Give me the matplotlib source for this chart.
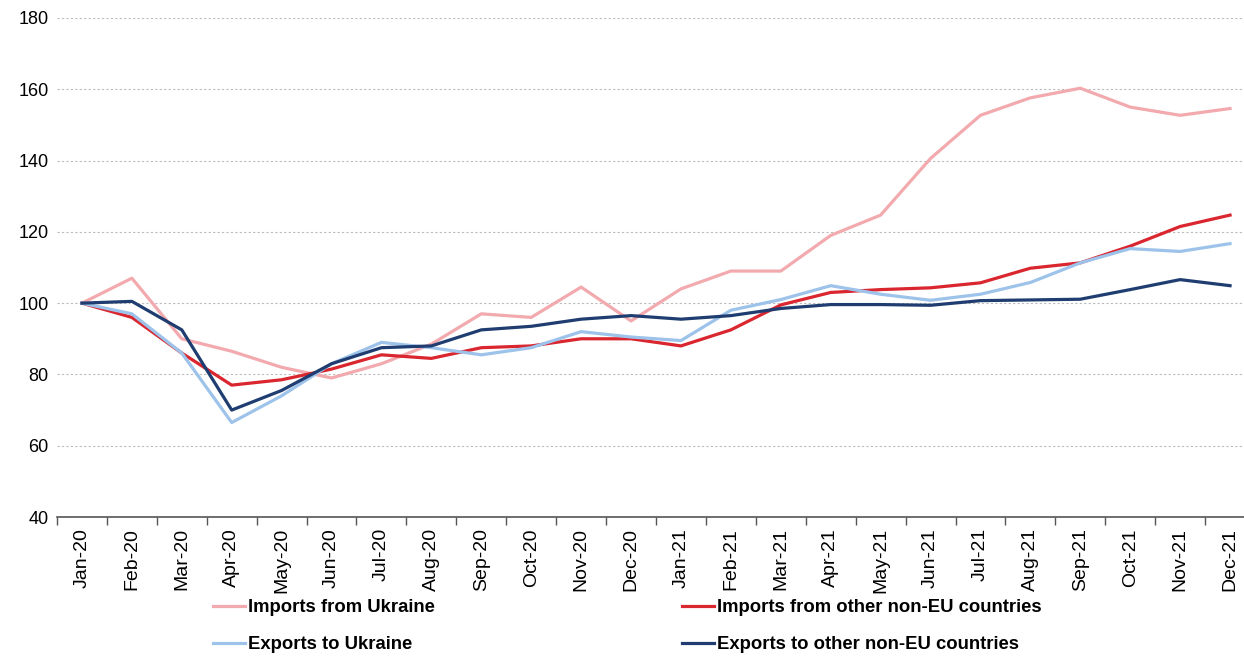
import numpy as np
import matplotlib.pyplot as plt
from matplotlib.ticker import MultipleLocator, FixedLocator

# ------------------------------------------------------------------ data
months = ['Jan-20', 'Feb-20', 'Mar-20', 'Apr-20', 'May-20', 'Jun-20',
          'Jul-20', 'Aug-20', 'Sep-20', 'Oct-20', 'Nov-20', 'Dec-20',
          'Jan-21', 'Feb-21', 'Mar-21', 'Apr-21', 'May-21', 'Jun-21',
          'Jul-21', 'Aug-21', 'Sep-21', 'Oct-21', 'Nov-21', 'Dec-21']

imports_ukraine = [100, 107, 90, 86.5, 82, 79, 83, 88.5, 97, 96, 104.5, 95,
                   104, 109, 109, 119, 124.7, 140.6, 152.7, 157.6, 160.3, 155, 152.7, 154.6]
imports_other = [100, 96, 86, 77, 78.5, 81.5, 85.5, 84.5, 87.5, 88, 90, 90,
                 88, 92.5, 99.5, 103, 103.8, 104.3, 105.7, 109.8, 111.3, 116, 121.5, 124.7]
exports_ukraine = [100, 97, 86, 66.5, 74, 83, 89, 87.5, 85.5, 87.5, 92, 90.5,
                   89.5, 98, 101, 104.9, 102.5, 100.8, 102.5, 105.8, 111.3, 115.3, 114.5, 116.7]
exports_other = [100, 100.5, 92.5, 70, 75.5, 83, 87.5, 88, 92.5, 93.5, 95.5, 96.5,
                 95.5, 96.5, 98.5, 99.6, 99.6, 99.4, 100.7, 100.9, 101.1, 103.8, 106.6, 104.9]

# --------------------------------------------------------------- figure
plt.rcParams['font.family'] = ['Liberation Sans', 'DejaVu Sans']

fig = plt.figure(figsize=(12.44, 6.57), dpi=100)
ax = fig.add_axes([57/1244, 1-517/657, 1198/1244, 499/657])

x = np.arange(len(months))
l1, = ax.plot(x, imports_ukraine, color='#F2AAAE', lw=2.3, label='Imports from Ukraine')
l2, = ax.plot(x, imports_other, color='#D9262F', lw=2.3, label='Imports from other non-EU countries')
l3, = ax.plot(x, exports_ukraine, color='#9DC3EA', lw=2.3, label='Exports to Ukraine')
l4, = ax.plot(x, exports_other, color='#1F3D70', lw=2.3, label='Exports to other non-EU countries')

ax.set_xlim(-0.5, len(months) - 0.5)
ax.set_ylim(40, 180)
ax.yaxis.set_major_locator(MultipleLocator(20))
ax.grid(axis='y', color='#BBBBBB', ls=(0, (2, 2)), lw=0.8)
ax.set_axisbelow(True)

ax.set_xticks(x)
ax.set_xticklabels(months, rotation=90, fontsize=14)
ax.xaxis.set_minor_locator(FixedLocator(np.arange(-0.5, len(months), 1)))
ax.tick_params(axis='x', which='major', length=0, pad=8)
ax.tick_params(axis='x', which='minor', length=6, color='#555555', width=1)
ax.tick_params(axis='y', length=0, labelsize=13, pad=6)

for s in ['left', 'right', 'top']:
    ax.spines[s].set_visible(False)
ax.spines['bottom'].set_color('#555555')
ax.spines['bottom'].set_linewidth(1.2)

leg = fig.legend(handles=[l1, l3, l2, l4], ncol=2, loc='upper left',
                 bbox_to_anchor=(213/1244, 1-599/657), frameon=False,
                 prop={'size': 13.3, 'weight': 'bold'}, handlelength=1.72,
                 handletextpad=0.17, columnspacing=13.4, labelspacing=1.1,
                 borderpad=0, borderaxespad=0)

plt.savefig('out.png', dpi=100)
